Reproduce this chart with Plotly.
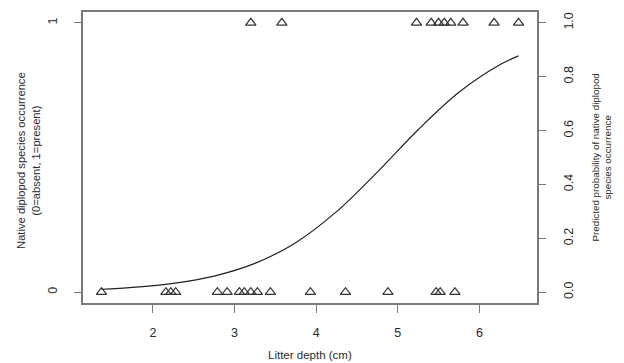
import plotly.graph_objects as go

# Observed occurrence data (litter depth in cm)
present_depth = [3.20, 3.58, 5.23, 5.41, 5.50, 5.57, 5.65, 5.80, 6.18, 6.48]
absent_depth = [1.37, 2.16, 2.22, 2.28, 2.79, 2.91, 3.06, 3.12, 3.20, 3.28,
                3.44, 3.93, 4.36, 4.88, 5.47, 5.52, 5.70]

# Predicted probability curve
curve_x = [1.37, 1.75, 2.25, 2.75, 3.25, 3.75, 4.25, 4.75, 5.25, 5.75, 6.25, 6.48]
curve_p = [0.011, 0.018, 0.033, 0.060, 0.107, 0.184, 0.299, 0.446, 0.603, 0.742, 0.844, 0.877]

x_ticks = [2, 3, 4, 5, 6]
left_ticks = [0, 1]
right_ticks = [0.0, 0.2, 0.4, 0.6, 0.8, 1.0]
right_ticktext = ["0.0", "0.2", "0.4", "0.6", "0.8", "1.0"]

FONT = "Liberation Sans, Arial, sans-serif"
TXT = "#2a2a2a"
BOX = "#7a7a7a"

fig = go.Figure()
fig.add_trace(go.Scatter(
    x=present_depth + absent_depth,
    y=[1] * len(present_depth) + [0] * len(absent_depth),
    mode="markers",
    marker=dict(symbol="triangle-up-open", size=9, color="#333333",
                line=dict(width=1.2, color="#333333")),
    showlegend=False, hoverinfo="x+y"))
fig.add_trace(go.Scatter(
    x=curve_x, y=curve_p, yaxis="y2", mode="lines",
    line=dict(color="#222222", width=1.2, shape="spline"),
    showlegend=False))

# the page body adds an 8px offset, so the figure is 8px smaller
fig.update_layout(
    width=616, height=355,
    margin=dict(l=75, r=87, t=4, b=60, autoexpand=False),
    paper_bgcolor="white", plot_bgcolor="white",
    font=dict(family=FONT, color=TXT, size=12),
    xaxis=dict(range=[1.144, 6.706], tickvals=x_ticks, ticks="outside",
               ticklen=8, tickcolor=BOX, tickwidth=1.3, showgrid=False,
               zeroline=False, showline=True, linecolor=BOX, linewidth=1.5,
               mirror=True, ticklabelstandoff=9, automargin=False,
               tickfont=dict(size=12.5, family=FONT, color=TXT)),
    yaxis=dict(range=[-0.04, 1.04], tickvals=left_ticks, ticks="outside",
               ticklen=7, tickcolor=BOX, tickwidth=1.3, showgrid=False,
               zeroline=False, showline=True, linecolor=BOX, linewidth=1.5,
               mirror=True, tickangle=-90, ticklabelstandoff=12,
               automargin=False,
               tickfont=dict(size=12.5, family=FONT, color=TXT)),
    yaxis2=dict(range=[-0.04, 1.04], tickvals=right_ticks,
                ticktext=right_ticktext, overlaying="y", side="right",
                ticks="outside", ticklen=8, tickcolor=BOX, tickwidth=1.3,
                showgrid=False, zeroline=False, showline=False,
                tickangle=-90, ticklabelstandoff=12, automargin=False,
                tickfont=dict(size=12.5, family=FONT, color=TXT)),
    annotations=[
        dict(text="Litter depth (cm)", xref="paper", yref="paper",
             x=0.499, y=-0.179, xanchor="center", yanchor="middle",
             showarrow=False, font=dict(size=11.5, family=FONT, color=TXT)),
        dict(text="Native diplopod species occurrence<br>(0=absent, 1=present)",
             xref="paper", yref="paper", x=-0.120, y=0.49,
             xanchor="center", yanchor="middle", textangle=-90,
             showarrow=False, font=dict(size=11.2, family=FONT, color=TXT)),
        dict(text="Predicted probability of native diplopod<br>species occurrence",
             xref="paper", yref="paper", x=1.141, y=0.5,
             xanchor="center", yanchor="middle", textangle=-90,
             showarrow=False, font=dict(size=9.8, family=FONT, color=TXT)),
    ],
)

fig.write_html("out.html")
